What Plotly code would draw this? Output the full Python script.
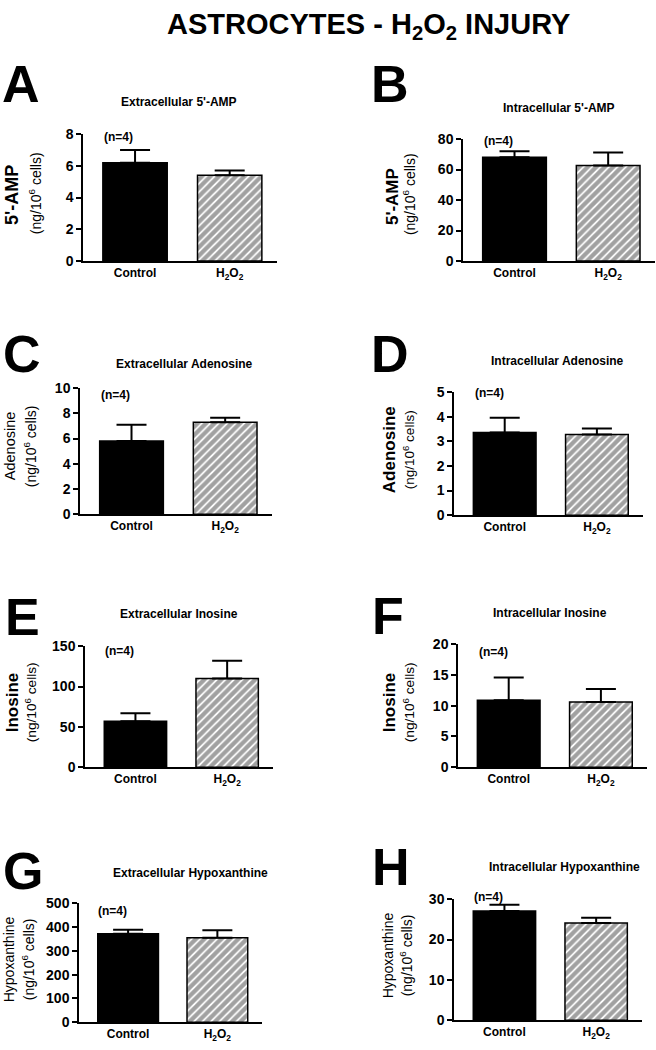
import plotly.graph_objects as go

W, H = 656, 1050
FONT = "Liberation Sans, Arial, sans-serif"

# ---------------- data ----------------
categories = ["Control", "H<sub>2</sub>O<sub>2</sub>"]
panel_letters = ["A", "B", "C", "D", "E", "F", "G", "H"]
panel_titles = ["Extracellular 5'-AMP", "Intracellular 5'-AMP",
                "Extracellular Adenosine", "Intracellular Adenosine",
                "Extracellular Inosine", "Intracellular Inosine",
                "Extracellular Hypoxanthine", "Intracellular Hypoxanthine"]
analytes = ["5'-AMP", "5'-AMP", "Adenosine", "Adenosine",
            "Inosine", "Inosine", "Hypoxanthine", "Hypoxanthine"]
units = "(ng/10<sup>6</sup> cells)"
control_mean = [6.2, 68.0, 5.8, 3.36, 57.0, 10.9, 372.0, 27.1]
control_sem = [0.8, 4.0, 1.3, 0.6, 10.0, 3.7, 16.0, 1.5]
h2o2_mean = [5.4, 62.6, 7.3, 3.28, 110.0, 10.6, 355.0, 24.1]
h2o2_sem = [0.3, 8.6, 0.35, 0.24, 22.0, 2.1, 31.0, 1.3]
y_max = [8, 80, 10, 5, 150, 20, 500, 30]
y_dtick = [2, 20, 2, 1, 50, 5, 100, 10]
n_label = "(n=4)"

# ---------------- layout (pixels) ----------------
# axis left, axis right, top, bottom
boxes = [(83, 277, 128, 257), (463, 655, 133, 257),
         (80, 272, 386, 514), (454, 643, 390, 515),
         (85, 273, 648, 771), (458, 647, 646, 771),
         (79, 262, 909, 1030), (454, 642, 905, 1028)]
letter_pos = [(0, 77), (369, 77), (1, 351), (369, 351),
              (3, 618), (370, 617), (1, 876), (370, 872)]
title_pos = [(179, 95), (559, 102), (185, 362), (557, 358),
             (179, 615), (550, 614), (190, 878), (564, 872)]
main_lab = [(12, 190, 18, True), (392, 192, 17, True), (10, 445, 14.5, False),
            (389, 449, 17, True), (12, 705, 17, True), (389, 705, 17, True),
            (9, 966, 14, False), (388, 962, 14, False)]
unit_lab = [(35, 188, 14), (409, 189, 14), (30, 445, 14), (409, 449, 13.5),
            (31, 705, 13.7), (409, 705, 13.7), (28, 966, 14), (406, 962, 14)]
n_ypos = [0.975, 0.98, 0.945, 0.99, 0.96, 0.935, 0.935, 1.02]
tick_size = [14, 14, 14, 14, 14, 14, 14, 14]


def px(x):
    return x / W


def py(y):
    return 1 - y / H


fig = go.Figure()
annotations = []

for i in range(8):
    xa = "x" if i == 0 else f"x{i + 1}"
    ya = "y" if i == 0 else f"y{i + 1}"
    xl, xr, yt, yb = boxes[i]
    fig.add_trace(go.Bar(
        x=categories,
        y=[control_mean[i], h2o2_mean[i]],
        width=0.68,
        marker=dict(color=["black", "white"],
                    line=dict(color="black", width=1.5),
                    pattern=dict(shape=["", "/"], fgcolor="black",
                                 bgcolor="white", size=6, solidity=0.7)),
        error_y=dict(type="data", symmetric=False,
                     array=[control_sem[i], h2o2_sem[i]],
                     arrayminus=[0, 0], color="black",
                     thickness=2, width=15),
        xaxis=xa, yaxis=ya, showlegend=False,
    ))
    axk = "xaxis" if i == 0 else f"xaxis{i + 1}"
    ayk = "yaxis" if i == 0 else f"yaxis{i + 1}"
    fig.layout[axk] = dict(
        domain=[px(xl), px(xr)], anchor=ya, range=[-0.55, 1.5],
        type="category",
        showline=True, linecolor="black", linewidth=1.5,
        ticks="", showgrid=False, zeroline=False,
        tickfont=dict(family=FONT, size=12, color="black", weight="bold"),
    )
    fig.layout[ayk] = dict(
        domain=[py(yb), py(yt)], anchor=xa, range=[0, y_max[i]],
        dtick=y_dtick[i], tick0=0,
        showline=True, linecolor="black", linewidth=1.5,
        ticks="outside", ticklen=5, tickwidth=1.5, tickcolor="black",
        showgrid=False, zeroline=False,
        tickfont=dict(family=FONT, size=tick_size[i], color="black",
                      weight="bold"),
    )
    # panel letter
    lx, ly = letter_pos[i]
    annotations.append(dict(
        text=f"<b>{panel_letters[i]}</b>", x=px(lx), y=py(ly),
        xref="paper", yref="paper", xanchor="left", yanchor="middle",
        showarrow=False, font=dict(family=FONT, size=52, color="black")))
    # panel title
    tx, ty = title_pos[i]
    annotations.append(dict(
        text=f"<b>{panel_titles[i]}</b>", x=px(tx), y=py(ty),
        xref="paper", yref="paper", xanchor="center", yanchor="middle",
        showarrow=False, font=dict(family=FONT, size=12, color="black")))
    # y labels
    mx, my, ms, mb = main_lab[i]
    annotations.append(dict(
        text=(f"<b>{analytes[i]}</b>" if mb else analytes[i]),
        x=px(mx), y=py(my), xref="paper", yref="paper",
        xanchor="center", yanchor="middle", textangle=-90,
        showarrow=False, font=dict(family=FONT, size=ms, color="black")))
    ux, uy, us = unit_lab[i]
    annotations.append(dict(
        text=units, x=px(ux), y=py(uy), xref="paper", yref="paper",
        xanchor="center", yanchor="middle", textangle=-90,
        showarrow=False, font=dict(family=FONT, size=us, color="black")))
    # n label
    annotations.append(dict(
        text=f"<b>{n_label}</b>", x=-0.17, y=n_ypos[i],
        xref=xa, yref=f"{ya} domain", xanchor="center", yanchor="middle",
        showarrow=False, font=dict(family=FONT, size=12, color="black")))

annotations.append(dict(
    text="<b>ASTROCYTES - H<sub>2</sub>O<sub>2</sub> INJURY</b>",
    x=px(368), y=py(18), xref="paper", yref="paper",
    xanchor="center", yanchor="middle", showarrow=False,
    font=dict(family=FONT, size=29, color="black")))

fig.update_layout(
    width=W, height=H,
    margin=dict(l=0, r=0, t=0, b=0),
    paper_bgcolor="white", plot_bgcolor="white",
    annotations=annotations,
    bargap=0.3,
)

post = (
    "document.documentElement.style.margin='0';"
    "document.documentElement.style.padding='0';"
    "document.documentElement.style.overflow='hidden';"
    "document.body.style.margin='0';"
    "document.body.style.padding='0';"
    "document.body.style.overflow='hidden';"
    "var d=document.getElementById('{plot_id}');"
    "d.style.position='fixed';d.style.top='0px';d.style.left='0px';"
)

fig.write_html("out.html", post_script=post,
               config={"displayModeBar": False})
